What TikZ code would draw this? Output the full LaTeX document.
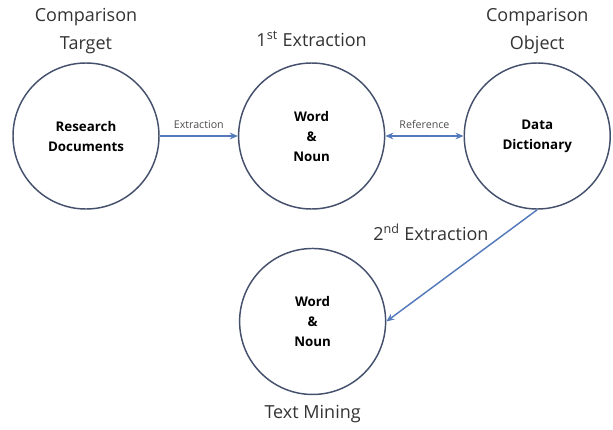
\documentclass[tikz,border=0pt]{standalone}
\usepackage{fontspec}
\setmainfont{Open Sans}
\usepackage{xcolor}
\usepackage{tikz}
\definecolor{circleline}{RGB}{68, 80, 108}
\definecolor{arrowblue}{RGB}{84, 122, 188}
\usetikzlibrary{arrows.meta, positioning, calc}

\begin{document}
\begin{tikzpicture}[
        node distance=2.06cm,
        stage/.style={circle, draw=circleline, line width=1.1pt, fill=white,
                    minimum size=109.5pt, inner sep=0pt, align=center,
                    font=\fontsize{10}{15}\selectfont\bfseries},
        title/.style={align=center, text=black!80, font=\fontsize{13.5}{21}\selectfont},
        tag/.style={text=black!70, font=\fontsize{8}{10}\selectfont},
        arrow/.style={-{Stealth[length=6pt, width=5pt]}, line width=1.1pt, arrowblue}
    ]
        \node[stage] (docs) {Research\\Documents};
        \node[stage, right=of docs] (words) {Word\\\&\\Noun};
        \node[stage, right=of words] (dict) {Data\\Dictionary};
        \node[stage, below=28.5pt of words, xshift=0.75pt] (mining) {Word\\\&\\Noun};

        \useasboundingbox ($(docs.center)+(-64.5pt,102pt)$) rectangle ++(459.75pt,-321.75pt);

        \node[title, above=3pt of docs] (target) {Comparison\\Target};
        \node[title, above=8pt of words] (first) {1\textsuperscript{st} Extraction};
        \node[title, above=3pt of dict] (object) {Comparison\\Object};
        \node[title, below=4pt of mining] (textmining) {Text Mining};

        \draw[arrow] (docs) -- node[tag, above=2pt] {Extraction} (words);
        \draw[arrow, {Stealth[length=6pt, width=5pt]}-{Stealth[length=6pt, width=5pt]}] (words) -- node[tag, above=2pt] {Reference} (dict);
        \draw[arrow] (dict.south) -- node[title, pos=0.2, left=10pt] {2\textsuperscript{nd} Extraction} (mining.east);
    \end{tikzpicture}
\end{document}
